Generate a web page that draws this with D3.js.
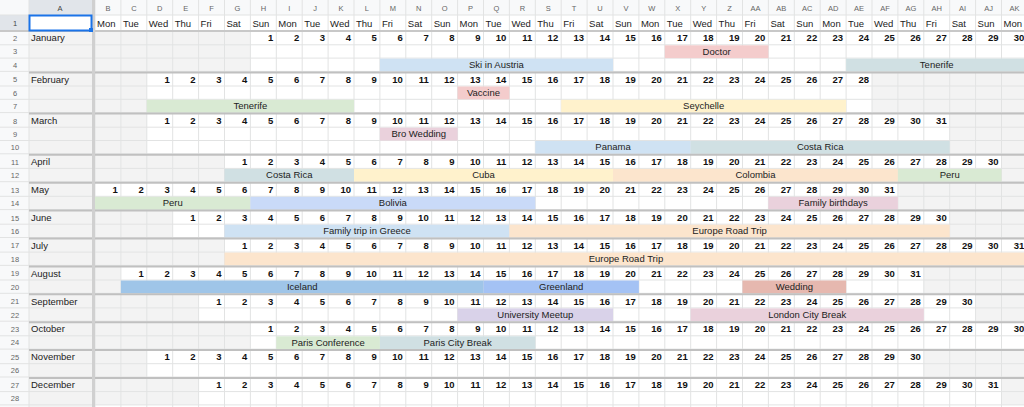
<!DOCTYPE html>
<html><head><meta charset="utf-8">
<script src="https://cdn.jsdelivr.net/npm/d3@7"></script>
<style>body{margin:0;background:#fff}svg{display:block;font-family:"Liberation Sans",Arial,sans-serif}</style>
</head><body><svg id="c" width="1024" height="407"></svg>
<script>
const months=["January","February","March","April","May","June","July","August","September","October","November","December"];
const monthRows=[3,3,3,2,2,2,2,2,2,2,2,2];
const firstWeekday=[6,2,2,5,0,3,5,1,4,6,2,4]; // 0=Mon
const monthDays=[31,28,31,30,31,30,31,31,30,31,30,31];
const weekdays=["Mon","Tue","Wed","Thu","Fri","Sat","Sun"];
const colLetters=["B","C","D","E","F","G","H","I","J","K","L","M","N","O","P","Q","R","S","T","U","V","W","X","Y","Z","AA","AB","AC","AD","AE","AF","AG","AH","AI","AJ","AK"];
// events: month, row offset, start day, end day, label, colour
const evMonth=[0,0,0,1,1,1,2,2,2,3,3,3,3,4,4,4,5,5,6,7,7,7,8,8,9,9];
const evRow=[1,2,2,1,2,2,1,2,2,1,1,1,1,1,1,1,1,1,1,1,1,1,1,1,1,1];
const evStart=[17,6,24,13,1,17,10,16,22,1,6,16,27,1,7,27,3,14,1,1,15,25,11,20,2,6];
const evEnd=[20,14,31,14,8,27,12,21,31,5,15,26,30,6,17,31,13,30,31,14,20,28,16,28,5,11];
const evLabel=["Doctor","Ski in Austria","Tenerife","Vaccine","Tenerife","Seychelle","Bro Wedding","Panama","Costa Rica","Costa Rica","Cuba","Colombia","Peru","Peru","Bolivia","Family birthdays","Family trip in Greece","Europe Road Trip","Europe Road Trip","Iceland","Greenland","Wedding","University Meetup","London City Break","Paris Conference","Paris City Break"];
const evColor=["#f4cccc","#cfe2f3","#d0e0e3","#f4cccc","#d9ead3","#fff2cc","#ead1dc","#cfe2f3","#d0e0e3","#d0e0e3","#fff2cc","#fce5cd","#d9ead3","#d9ead3","#c9daf8","#ead1dc","#cfe2f3","#fce5cd","#fce5cd","#9fc5e8","#a4c2f4","#e6b8af","#d9d2e9","#ead1dc","#d9ead3","#d0e0e3"];

const svg=d3.select("#c");
const NC=colLetters.length;
const x=d3.scaleLinear().domain([0,NC]).range([95,95+NC*25.9]);
const RH=13.3,SEP=1.3;
const rows=[];
let y=31.5;
months.forEach((m,mi)=>{ if(mi>0) y+=SEP; for(let o=0;o<monthRows[mi];o++){rows.push({top:y,month:mi,off:o}); y+=RH;} });
const rowTop=(mi,o)=>rows.find(r=>r.month===mi&&r.off===o).top;

svg.append("rect").attr("x",0).attr("y",0).attr("width",1024).attr("height",15).attr("fill","#f8f9fa");
svg.append("rect").attr("x",0).attr("y",0).attr("width",29).attr("height",407).attr("fill","#f8f9fa");
svg.append("rect").attr("x",29).attr("y",0).attr("width",63).attr("height",15).attr("fill","#e1e5ea");
svg.append("rect").attr("x",0).attr("y",15).attr("width",29).attr("height",16).attr("fill","#e1e5ea");
svg.append("rect").attr("x",29).attr("y",31).attr("width",63).attr("height",376).attr("fill","#f3f3f3");

rows.forEach(r=>{
  for(let c=0;c<NC;c++){
    const d=c-firstWeekday[r.month]+1;
    if(d<1||d>monthDays[r.month]) svg.append("rect").attr("x",x(c)).attr("y",r.top).attr("width",x(1)-x(0)).attr("height",RH).attr("fill","#f3f3f3");
  }
});
const g=svg.append("g").attr("stroke","#e2e3e3").attr("stroke-width",1);
for(let c=0;c<=NC;c++) g.append("line").attr("x1",x(c)).attr("x2",x(c)).attr("y1",0).attr("y2",407);
g.append("line").attr("x1",29).attr("x2",29).attr("y1",0).attr("y2",407);
rows.forEach(r=>g.append("line").attr("x1",0).attr("x2",1024).attr("y1",r.top+RH).attr("y2",r.top+RH));
g.append("line").attr("x1",0).attr("x2",1024).attr("y1",15).attr("y2",15);

for(let i=0;i<evLabel.length;i++){
  const m=evMonth[i],t=rowTop(m,evRow[i]);
  const c0=evStart[i]+firstWeekday[m]-1,c1=Math.min(evEnd[i]+firstWeekday[m]-1,NC-1);
  svg.append("rect").attr("x",x(c0)).attr("y",t+0.5).attr("width",x(c1+1)-x(c0)).attr("height",RH-0.5).attr("fill",evColor[i]);
  svg.append("text").attr("x",(x(c0)+x(c1+1))/2).attr("y",t+RH/2+3.3).attr("text-anchor","middle").attr("font-size",9.5).attr("fill","#222").text(evLabel[i]);
}

for(let c=0;c<NC;c++){
  svg.append("text").attr("x",x(c)+2).attr("y",27).attr("font-size",9.5).attr("fill","#222").text(weekdays[c%7]);
  svg.append("text").attr("x",(x(c)+x(c+1))/2).attr("y",11).attr("text-anchor","middle").attr("font-size",7.5).attr("fill","#666").text(colLetters[c]);
}
svg.append("text").attr("x",60).attr("y",11).attr("text-anchor","middle").attr("font-size",7.5).attr("fill","#444").text("A");
svg.append("text").attr("x",15).attr("y",26).attr("text-anchor","middle").attr("font-size",7.5).attr("fill","#444").text(1);
rows.forEach((r,i)=>svg.append("text").attr("x",15).attr("y",r.top+RH/2+3).attr("text-anchor","middle").attr("font-size",7.5).attr("fill","#666").text(i+2));

months.forEach((m,mi)=>{
  const t=rowTop(mi,0);
  svg.append("text").attr("x",31).attr("y",t+RH/2+3.3).attr("font-size",9.5).attr("fill","#222").text(m);
  for(let d=1;d<=monthDays[mi];d++){
    const c=d+firstWeekday[mi]-1; if(c>=NC) continue;
    svg.append("text").attr("x",x(c+1)-3).attr("y",t+RH/2+3.3).attr("text-anchor","end").attr("font-size",9.5).attr("font-weight","bold").attr("fill","#111").text(d);
  }
});
months.forEach((m,mi)=>{ if(mi===0) return; const t=rowTop(mi,0);
  svg.append("line").attr("x1",29).attr("x2",1024).attr("y1",t-0.3).attr("y2",t-0.3).attr("stroke","#c0c0c0").attr("stroke-width",2);});
svg.append("line").attr("x1",0).attr("x2",1024).attr("y1",31).attr("y2",31).attr("stroke","#c8c8c8").attr("stroke-width",2);
svg.append("line").attr("x1",93.5).attr("x2",93.5).attr("y1",0).attr("y2",407).attr("stroke","#d0d0d0").attr("stroke-width",3);
svg.append("rect").attr("x",29.5).attr("y",15.5).attr("width",62).attr("height",15).attr("fill","none").attr("stroke","#1a73e8").attr("stroke-width",2);
svg.append("rect").attr("x",89).attr("y",28).attr("width",4).attr("height",4).attr("fill","#1a73e8");
</script></body></html>
